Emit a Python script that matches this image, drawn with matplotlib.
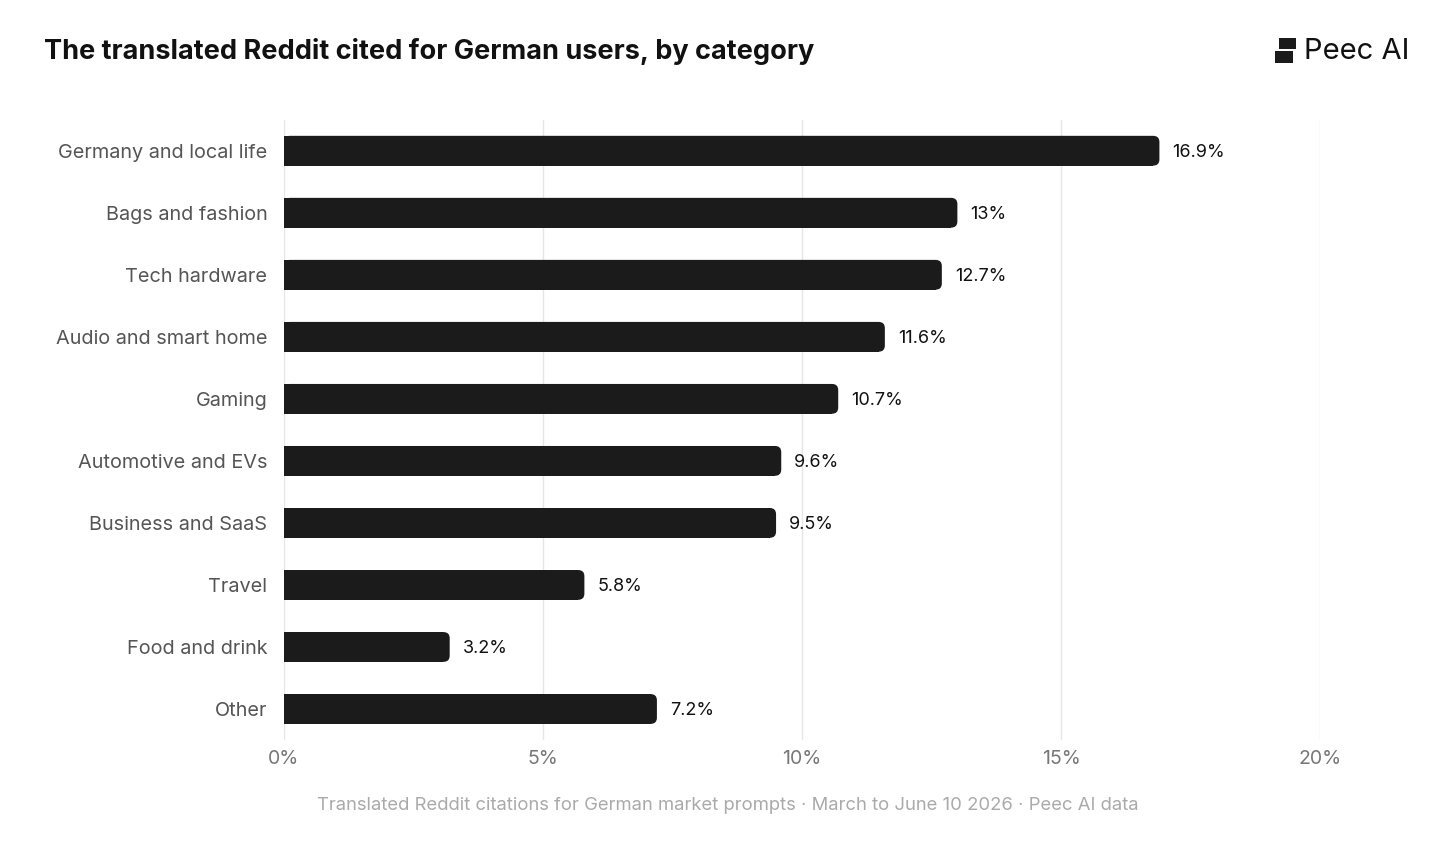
import matplotlib.pyplot as plt
from matplotlib.patches import FancyBboxPatch, Rectangle

categories = ["Germany and local life", "Bags and fashion", "Tech hardware",
              "Audio and smart home", "Gaming", "Automotive and EVs",
              "Business and SaaS", "Travel", "Food and drink", "Other"]
values = [16.9, 13, 12.7, 11.6, 10.7, 9.6, 9.5, 5.8, 3.2, 7.2]
labels = ["16.9%", "13%", "12.7%", "11.6%", "10.7%", "9.6%", "9.5%", "5.8%", "3.2%", "7.2%"]
xticks = [0, 5, 10, 15, 20]

plt.rcParams['font.family'] = ['Inter', 'DejaVu Sans']
fig = plt.figure(figsize=(14.56, 8.55), dpi=100)
ax = fig.add_axes([0.195, 0.1345, 0.7116, 0.7255])

bar_col = '#1b1b1b'
h = 0.48
r = 0.12
for i, (v, lab) in enumerate(zip(values, labels)):
    ax.add_patch(FancyBboxPatch((0, i - h / 2), v, h,
                                boxstyle=f"round,pad=0,rounding_size={r}",
                                mutation_aspect=0.83, fc=bar_col, ec='none', zorder=3))
    # square off the left end
    ax.add_patch(Rectangle((0, i - h / 2), v - r, h, fc=bar_col, ec='none', zorder=3))
    ax.text(v + 0.25, i, lab, va='center_baseline', ha='left', fontsize=13, color='#111111')

ax.set_xlim(0, 20)
ax.set_ylim(9.5, -0.5)
ax.set_yticks(range(len(categories)))
ax.set_yticklabels(categories, fontsize=14.3, color='#555555')
ax.set_xticks(xticks)
ax.set_xticklabels([f"{t}%" for t in xticks], fontsize=14, color='#777777')
ax.tick_params(axis='y', length=0, pad=12)
ax.tick_params(axis='x', length=0, pad=7)
ax.grid(axis='x', color='#e6e6e6', lw=1, zorder=0)
for s in ax.spines.values():
    s.set_visible(False)

fig.text(0.03, 0.94, "The translated Reddit cited for German users, by category",
         fontsize=19.5, fontweight='bold', color='#111111', va='center')
fig.text(0.968, 0.94, "Peec AI", fontsize=21, color='#111111', va='center', ha='right')
fig.patches.append(Rectangle((0.8785, 0.9425), 0.0115, 0.013, transform=fig.transFigure,
                             fc='#1b1b1b', ec='none'))
fig.patches.append(Rectangle((0.8755, 0.9265), 0.0125, 0.0135, transform=fig.transFigure,
                             fc='#1b1b1b', ec='none'))
fig.text(0.5, 0.058, "Translated Reddit citations for German market prompts · March to June 10 2026 · Peec AI data",
         fontsize=13.3, color='#aaaaaa', ha='center', va='center')

fig.savefig("out.png", dpi=100, facecolor='white')
